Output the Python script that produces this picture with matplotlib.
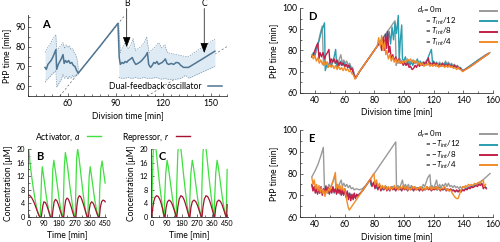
import numpy as np
import matplotlib
matplotlib.use('Agg')
from matplotlib import pyplot as plt
from matplotlib.lines import Line2D
from matplotlib.ticker import MultipleLocator

plt.rcParams['font.family'] = ['Lato', 'DejaVu Sans']
plt.rcParams['mathtext.fontset'] = 'custom'
plt.rcParams['mathtext.rm'] = 'Lato'
plt.rcParams['mathtext.it'] = 'Lato:italic'
plt.rcParams['mathtext.bf'] = 'Lato:bold'
plt.rcParams['font.size'] = 6.2

# 颜色
GRAY, TEAL, CRIMSON, ORANGE = '#9a9a9a', '#2a9db0', '#c41e48', '#f28c28'
GREEN, DARKRED = '#3fe03f', '#a3122f'
STEEL, BAND, BAND_EDGE = '#4f7592', '#deebf5', '#7e97ab'

# ---- A: 平均 PtP 时间及范围
a_mean = [(45.7, 69.5), (46.5, 68.5), (47.5, 71), (48.5, 72), (49.5, 73), (50.5, 74.5),
          (51.5, 76.5), (52.5, 78.5), (53, 68.5), (54, 71), (55, 72.5), (56, 74), (57, 76),
          (57.7, 71.5), (58.5, 73), (59.5, 72), (60.5, 73), (61.5, 71.5), (62.5, 72),
          (63.5, 70.5), (64.5, 70), (65.5, 68), (66.5, 66.5), (80, 80), (91.5, 91.8),
          (92.3, 74.5), (93, 71), (94, 72), (95, 71.5), (96, 72.5), (97, 72), (98, 73),
          (99, 73.5), (100.5, 74.5), (101.5, 72.5), (102.7, 71), (104, 71.5), (105.8, 72.5),
          (107, 73.5), (107.8, 74.3), (109, 75.5), (110, 77), (110.8, 71), (112, 69.5),
          (113, 70.5), (114, 72), (115, 71.5), (116, 72.5), (117, 71), (118, 71.5),
          (119.3, 72), (120.5, 73), (121.3, 73.8), (122.3, 71.5), (123.4, 71), (125, 71.5),
          (126.5, 71), (128, 72), (129.6, 71.8), (131, 70.5), (132.7, 69.5), (134, 69.5),
          (135.8, 69.5), (144, 73.5), (152.4, 77.7)]
band1_x = [45.7, 47, 48.5, 50, 51.5, 52.5, 53, 54.5, 56, 57, 58, 59, 60, 61, 62, 63, 64, 65, 66, 66.8]
band1_hi = [77, 79, 81, 83, 85, 86, 78, 79.5, 81, 82, 79, 81, 79.5, 80.5, 78.5, 79, 77, 76, 73, 67]
band1_lo = [62, 63.5, 64.5, 66, 67, 68, 59.5, 61.5, 63.5, 66, 64, 65, 63.5, 65, 64, 65.5, 64.5, 66, 65.5, 66.5]
band2_x = [92, 93, 94, 96, 98, 99.5, 101, 102.5, 104, 106, 108, 109.5, 111, 113, 115, 117,
           119, 121, 122.5, 125, 128, 131, 134, 136, 144, 152.4]
band2_hi = [92, 77, 79, 82, 79, 80.5, 84, 78, 79, 80, 82, 85, 77, 78.5, 80, 82, 79.5, 81, 77,
            76.5, 76, 75.5, 75, 75, 79.5, 83.8]
band2_lo = [64.5, 64, 64, 64, 64.5, 64, 64, 64.5, 64, 64, 64.5, 64, 64, 64, 64.5, 64, 63.5, 64,
            63.5, 63.5, 63.5, 64, 65.5, 64, 67, 70]
arrow_b, arrow_c = (97, 79.8), (145.7, 76.8)

# ---- B, C: 激活物 a 与抑制物 r
b_act = [(0, 20), (10, 15), (20, 11), (30, 7.5), (40, 4.5), (50, 2), (60, 0.5), (68, 0), (72, 6),
         (76, 12), (80, 14.8), (88, 12), (96, 9), (104, 6), (112, 3.5), (120, 1.5), (128, 0.2),
         (134, 0), (138, 8), (142, 14), (148, 16.7), (156, 14), (164, 11), (172, 8), (180, 5),
         (188, 2.5), (196, 0.5), (202, 0), (206, 8), (210, 15), (216, 19), (224, 16.5),
         (232, 13.5), (240, 10), (248, 7), (256, 4), (264, 1.5), (270, 0.2), (274, 0), (278, 9),
         (282, 17), (288, 20), (296, 17.5), (304, 14), (312, 10.5), (320, 7), (328, 4),
         (336, 1.5), (344, 0.2), (348, 0), (352, 7), (356, 12), (362, 14.8), (370, 12), (378, 9),
         (386, 6), (394, 3.5), (402, 1.5), (410, 0.2), (414, 0), (418, 8), (424, 14),
         (432, 16.5), (440, 13.5), (450, 10)]
b_rep = [(0, 6.5), (10, 6.2), (20, 5.5), (30, 4.5), (40, 3.2), (50, 1.8), (60, 0.5), (66, 0),
         (74, 0), (78, 1.5), (84, 3.5), (90, 4.5), (98, 4.3), (106, 3.5), (114, 2.3), (122, 1),
         (128, 0), (138, 0), (144, 2.5), (150, 4.5), (158, 5.2), (166, 4.8), (174, 3.8),
         (182, 2.5), (190, 1.2), (198, 0), (206, 0), (212, 3), (218, 5), (226, 5.6), (234, 5.2),
         (242, 4.2), (250, 3), (258, 1.6), (266, 0.3), (272, 0), (278, 0), (284, 3.5), (290, 5.5),
         (298, 6.3), (306, 6), (314, 5), (322, 3.8), (330, 2.4), (338, 1), (344, 0), (352, 0),
         (356, 2), (362, 3.8), (370, 4.5), (378, 4.2), (386, 3.3), (394, 2.2), (402, 1),
         (410, 0), (416, 0), (422, 3), (430, 4.6), (438, 5), (446, 4.8), (450, 4.5)]
c_act = [(0, 0), (4, 10), (8, 18), (14, 23), (22, 21.5), (30, 18), (40, 13), (50, 8.5), (60, 4.5),
         (68, 1.5), (74, 0), (78, 6), (84, 13), (92, 16.7), (100, 14.5), (108, 11.5), (116, 8.5),
         (124, 5.5), (132, 3), (140, 1), (146, 0), (150, 10), (156, 19), (164, 23), (172, 21),
         (180, 17.5), (190, 12.5), (200, 8), (210, 4), (218, 1.2), (224, 0), (228, 6), (234, 13),
         (242, 16.7), (250, 14.5), (258, 11.5), (266, 8.5), (274, 5.5), (282, 3), (290, 1),
         (296, 0), (300, 10), (306, 19), (314, 23), (322, 21), (330, 17.5), (340, 12.5),
         (350, 8), (360, 4), (368, 1.2), (372, 0), (376, 6), (382, 13), (390, 16.7),
         (398, 14.5), (406, 11.5), (414, 8.5), (422, 5.5), (430, 3), (438, 1), (444, 0),
         (447, 7), (450, 14)]
c_rep = [(0, 0), (6, 2.5), (12, 4.5), (20, 5.8), (30, 6.3), (40, 6), (50, 5), (58, 3.8), (66, 2.2),
         (72, 0.8), (76, 0), (80, 0), (86, 2.8), (94, 4.5), (104, 5), (114, 4.6), (124, 3.6),
         (132, 2.4), (140, 1.2), (146, 0), (150, 0), (156, 3), (164, 5.3), (174, 6.3), (184, 6),
         (194, 5), (202, 3.8), (210, 2.4), (218, 1), (224, 0), (228, 0), (234, 2.8), (242, 4.5),
         (252, 5), (262, 4.6), (272, 3.6), (280, 2.4), (288, 1.2), (296, 0), (300, 0), (306, 3),
         (314, 5.3), (324, 6.3), (334, 6), (344, 5), (352, 3.8), (360, 2.4), (368, 1), (372, 0),
         (376, 0), (382, 2.8), (390, 4.5), (400, 5), (410, 4.6), (420, 3.6), (428, 2.4),
         (436, 1.2), (444, 0), (447, 0), (450, 3.7)]

# ---- D: d_r = 0, T/12, T/8, T/4
d_gray = [(38, 77), (39, 78.5), (40, 77), (41, 80), (42, 82), (43, 86), (44, 89), (45, 91.5),
          (45.8, 73), (46.5, 75), (47.5, 73), (48.5, 74.5), (49.5, 73), (50.5, 75), (51.5, 73.5),
          (52.5, 76), (53.5, 74), (54.5, 75), (55.5, 73), (56.5, 76), (57.5, 78), (58.5, 74),
          (59.5, 75.5), (60.5, 74), (61.5, 75), (62.5, 73), (63.5, 74), (64.5, 72), (65.5, 72),
          (66.5, 69), (67.5, 67), (70, 70), (75, 75), (80, 80), (85, 85), (90, 90), (94, 94),
          (94.8, 73), (95.5, 75), (96.5, 74), (97.5, 76), (98.5, 74), (100, 75), (101, 73),
          (102, 74.5), (103, 73.5), (104, 75), (105, 74), (106, 75.5), (107, 74), (108, 75),
          (109, 74), (110, 73.5), (111, 74), (112, 73), (113, 74.5), (114, 73), (115, 74),
          (116, 73.5), (117, 75), (118, 74), (119, 73.5), (120, 74.5), (121, 73), (122, 74),
          (123, 73), (124, 74.5), (125, 73.5), (126, 74), (127, 73), (128, 75), (129, 73.5),
          (130, 74.5), (131, 73), (132, 74), (133, 73), (134, 73.5), (135, 72.5), (136, 73),
          (137, 72), (138, 72), (139, 71), (140, 70.5), (145, 73), (150, 75.5), (155, 78),
          (158, 79)]
d_teal = [(38, 77), (39, 79), (40, 78), (41, 81), (42, 83), (43, 85), (44, 88), (45, 90),
          (46.5, 93), (47, 70.5), (48, 73), (49, 72), (50, 74), (51, 72.5), (52, 75), (53, 77),
          (54, 80.5), (54.8, 72), (55.5, 74), (56.5, 73), (57.5, 75), (58.5, 73), (59.5, 74.5),
          (60.5, 72.5), (61.5, 73.5), (62.5, 72), (63.5, 73), (64.5, 71.5), (65.5, 71),
          (66.5, 68.5), (67.5, 67), (70, 70), (75, 75), (80, 80), (85, 85), (88, 88), (89, 84),
          (90, 89), (91, 83), (92, 91), (93, 85), (94, 93), (95, 88), (96.2, 96.5), (96.8, 75),
          (97.5, 84), (98.5, 92), (99, 76), (100, 75), (101, 77), (102, 74), (103, 75.5),
          (104, 73), (105, 74.5), (106, 73), (107, 75), (108, 74), (109, 76), (110, 74),
          (111, 75), (112, 73.5), (113, 74.5), (114, 73), (115, 75), (116, 76), (117, 78),
          (118.5, 80.5), (119.3, 74), (120, 75), (121, 73.5), (122, 74.5), (123, 73), (124, 74),
          (125, 72.5), (126, 74), (127, 73), (128, 74.5), (129, 73), (130, 74), (131, 72.5),
          (132, 73.5), (133, 72), (134, 73), (135, 72), (136, 72.5), (137, 71.5), (138, 72),
          (139, 71), (140, 70.5), (145, 73), (150, 75.5), (155, 77.5), (157, 78.5)]
d_crimson = [(38, 77), (39, 78), (40, 80), (41, 82), (42, 83.5), (42.8, 76), (43.5, 79),
             (44.5, 77), (45.5, 79), (46.5, 76), (47.5, 78), (48.5, 79), (49.5, 80.5), (50.2, 74),
             (51, 76), (52, 74.5), (53, 76), (54, 74), (55, 75.5), (56, 73), (57, 74.5), (58, 73),
             (59, 74), (60, 72.5), (61, 73.5), (62, 72), (63, 73), (64, 71), (65, 71.5), (66, 69),
             (67.5, 67), (70, 70), (75, 75), (80, 80), (84, 84), (85, 80), (86, 86), (86.8, 80),
             (87.5, 87.5), (88.3, 81), (89, 89), (89.8, 79), (90.5, 82), (91.5, 76), (92.5, 78),
             (93.5, 75), (94.5, 77), (95.5, 74.5), (96.5, 76), (97.5, 74), (98.5, 75),
             (99.5, 73), (100.5, 74.5), (101.5, 73), (102.5, 74), (103.5, 72), (104.5, 72.5),
             (105.5, 71), (106.5, 71.5), (107.5, 73), (108.5, 72), (109.5, 74), (110.5, 72.5),
             (111.5, 74), (112.5, 73), (113.5, 74.5), (114.5, 73.5), (115.5, 75), (116.5, 76.5),
             (117.2, 73), (118, 74), (119, 73), (120, 74.5), (121, 73), (122, 74), (123, 72.5),
             (124, 73.5), (125, 72.5), (126, 74), (127, 72.5), (128, 73.5), (129, 72.5),
             (130, 73.5), (131, 72.5), (132, 73), (133, 72), (134, 73), (135, 72), (136, 72.5),
             (137, 71.5), (138, 71.5), (139, 70.5), (140, 70.5), (145, 72.5), (150, 75),
             (155, 77.5), (157, 78.5)]
d_orange = [(38, 78), (39, 76), (40, 77.5), (41, 75), (42, 76.5), (43, 74), (44, 75.5), (45, 73.5),
            (46, 75), (47, 73), (48, 74.5), (49, 72), (50, 73.5), (51, 72), (52, 73), (53, 71.5),
            (54, 73), (55, 71), (56, 72.5), (57, 71), (58, 72), (59, 70.5), (60, 72), (61, 70.5),
            (62, 71.5), (63, 70), (64, 70.5), (65, 69), (66, 68.5), (67, 66.5), (70, 70), (75, 75),
            (80, 80), (82, 82), (83, 86), (84, 82), (85, 87), (86, 80), (87, 84), (87.8, 78),
            (88.5, 80), (89.5, 76), (90.5, 78), (91.5, 75), (92.5, 77), (93.5, 74.5), (94.5, 76),
            (95.5, 74), (96.5, 75.5), (97.5, 74), (98.5, 75), (99.5, 74), (100.5, 75),
            (101.5, 74.5), (102.5, 76), (103.5, 75), (104.5, 76), (105.5, 74.5), (106.5, 75.5),
            (107.5, 74), (108.5, 75), (109.5, 73.5), (110.5, 74.5), (111.5, 73), (112.5, 74),
            (113.5, 72.5), (114.5, 73.5), (115.5, 73), (116.5, 74), (117.5, 72.5), (118.5, 73.5),
            (119.5, 72.5), (120.5, 73.5), (121.5, 72.5), (122.5, 73.5), (123.5, 72), (124.5, 73),
            (125.5, 72.5), (126.5, 73), (127.5, 72), (128.5, 73), (129.5, 72), (130.5, 73),
            (131.5, 72), (132.5, 72.5), (133.5, 71.5), (134.5, 72), (135.5, 71), (136.5, 72),
            (137.5, 71), (138.5, 71), (139.5, 70), (140.5, 70.5), (145, 72.5), (150, 75),
            (155, 77.5), (157, 78.5)]

# ---- E: d_r = 0, -T/12, -T/8, -T/4
e_gray = [(38, 78.5), (40, 81), (42, 84), (44, 88), (45.7, 92), (46.5, 73), (47.5, 74.5),
          (48.5, 73), (49.5, 75), (50.5, 73.5), (51.5, 75), (52.5, 77), (53.5, 79.5), (54.2, 73),
          (55, 75), (56, 74), (57, 76), (57.8, 77), (58.5, 74), (59.5, 75.5), (60.5, 74),
          (61.5, 75), (62.5, 73.5), (63.5, 74.5), (64.5, 73), (65.5, 73.5), (66.5, 72.5),
          (68, 73), (70, 72.5), (72, 73), (75, 75), (80, 80), (85, 85), (90, 90), (94.5, 94.5),
          (95, 73), (96, 74.5), (97, 73), (98, 75), (99, 77), (99.8, 74), (101, 75), (102, 73.5),
          (103, 75), (104, 73), (105, 74.5), (106, 73.5), (107, 74), (108, 72.5), (109, 73.5),
          (110, 73), (111, 74), (112, 73), (113, 75), (114, 74), (115, 76), (116, 78),
          (117.5, 79.5), (118.3, 73), (119, 74.5), (120, 73), (121, 75), (122, 77), (123, 73),
          (124, 75), (125, 73.5), (126, 75), (127, 74), (128, 75.5), (129, 74), (130, 75.5),
          (131, 74), (132, 74.5), (133, 73.5), (134, 74.5), (135, 73.5), (136, 74), (137, 73),
          (138, 74), (139, 73), (140, 74), (141, 73.5), (142, 74), (143, 73.5), (144, 74),
          (145, 74), (148, 75), (151, 76), (154, 77.5), (158, 80)]
e_teal = [(38, 74.5), (39, 72.5), (40, 74), (41, 71.5), (42, 73.5), (43, 71), (44, 73.5),
          (45, 71), (46, 73), (47, 71.5), (48, 73.5), (49, 71), (50, 73), (51, 71.5), (52, 73.5),
          (53, 71), (54, 73), (55, 71), (56, 73), (57, 70.5), (58, 72.5), (59, 70.5), (60, 72.5),
          (61, 69.5), (62, 71.5), (63, 69), (64, 70.5), (65, 68.5), (66, 70.5), (67, 69),
          (68, 70), (70, 70.5), (72, 72), (75, 75), (77, 77), (78, 74.5), (80, 75.5), (82, 73),
          (84, 74.5), (86, 72.5), (88, 74), (90, 72.5), (92, 74), (94, 72.5), (96, 73.5),
          (98, 72.5), (100, 74), (102, 72.5), (104, 73.5), (106, 72.5), (108, 73.5), (110, 72.5),
          (112, 73.5), (114, 72.5), (116, 73.5), (118, 72.5), (120, 73.5), (122, 72.5),
          (124, 73.5), (126, 72.5), (128, 73), (130, 72.5), (132, 72.5), (134, 72), (136, 72),
          (138, 72), (140, 72.5), (142, 73), (144, 73.5), (146, 74), (148, 74.5), (150, 75),
          (152, 75.5), (154, 74), (155.5, 73.5)]
e_crimson = [(38, 75), (38.7, 72), (39.5, 74), (40.3, 71), (41, 73), (41.8, 70.5), (42.6, 73.5),
             (43.4, 71), (44.2, 74), (45, 70), (45.8, 73), (46.6, 71), (47.4, 74), (48.2, 71.5),
             (49, 73.5), (49.8, 70.5), (50.6, 73), (51.4, 71), (52.2, 74), (53, 71.5), (53.8, 73),
             (54.6, 70.5), (55.4, 73.5), (56.2, 71), (57, 73), (57.8, 70), (58.6, 72.5),
             (59.4, 70), (60.2, 73), (61, 69), (61.8, 72), (62.6, 68), (63.4, 71), (64.2, 67.5),
             (65, 70.5), (65.8, 68), (66.6, 71), (67.4, 68.5), (68.2, 70.5), (69, 69.5),
             (70, 70.5), (72, 72), (75, 75), (77.5, 77.5), (78.5, 74), (79.5, 76), (80.5, 73),
             (81.5, 75.5), (82.5, 72.5), (83.5, 74.5), (84.5, 72), (85.5, 74), (86.5, 72.5),
             (87.5, 74), (88.5, 72), (89.5, 73.5), (90.5, 72), (91.5, 74), (92.5, 72.5),
             (93.5, 73.5), (94.5, 72), (95.5, 73.5), (96.5, 72.5), (97.5, 74), (98.5, 72),
             (99.5, 73.5), (100.5, 72.5), (101.5, 74), (102.5, 72), (103.5, 73.5), (104.5, 72.5),
             (105.5, 74), (106.5, 72), (107.5, 73.5), (108.5, 72.5), (109.5, 73.5), (110.5, 72),
             (111.5, 73.5), (112.5, 72), (113.5, 73), (114.5, 72.5), (115.5, 74), (116.5, 72.5),
             (117.5, 73.5), (118.5, 72), (119.5, 73), (120.5, 72.5), (121.5, 74), (122.5, 72.5),
             (123.5, 73.5), (124.5, 72), (125.5, 73), (126.5, 72.5), (127.5, 73.5), (128.5, 72),
             (129.5, 73), (130.5, 72), (131.5, 73), (132.5, 72), (133.5, 72.5), (134.5, 71.5),
             (135.5, 72.5), (136.5, 71.5), (137.5, 72.5), (138.5, 71.5), (139.5, 72.5),
             (140.5, 72), (141.5, 73), (142.5, 72.5), (143.5, 73.5), (144.5, 73), (145.5, 74),
             (146.5, 73.5), (147.5, 74), (148.5, 74.5), (149.5, 74), (150.5, 75), (151.5, 74.5),
             (152.5, 75.5), (153.5, 73), (154.5, 74), (155.5, 73)]
e_orange = [(38, 78), (38.8, 75), (39.6, 77), (40.4, 73), (41.2, 75), (42, 72), (42.8, 74.5),
            (43.6, 71.5), (44.4, 73.5), (45.2, 71), (46, 72.5), (46.8, 69.5), (47.6, 72),
            (48.4, 71), (49.2, 73), (50, 72), (51, 74), (52, 76), (53, 78), (53.8, 80.5),
            (54.5, 73), (55.3, 75), (56.1, 73), (56.9, 74.5), (57.7, 72.5), (58.5, 74), (59.3, 72),
            (60.1, 73), (60.9, 70), (61.7, 67), (62.5, 64.5), (63.2, 63.2), (66, 66), (70, 70),
            (75, 75), (79.8, 80), (80.5, 75), (81.5, 77), (82.5, 74), (83.5, 75.5), (84.5, 73),
            (85.5, 74.5), (86.5, 73), (87.5, 74.5), (88.5, 72.5), (89.5, 74), (90.5, 72.5),
            (91.5, 74), (92.5, 73), (93.5, 74.5), (94.5, 73), (95.5, 74), (96.5, 72.5),
            (97.5, 74), (98.5, 73), (99.5, 74.5), (100.5, 73), (101.5, 74), (102.5, 72.5),
            (103.5, 73.5), (104.5, 72.5), (105.5, 74), (106.5, 73), (107.5, 74), (108.5, 72.5),
            (109.5, 73.5), (110.5, 73), (111.5, 74), (112.5, 72.5), (113.5, 73.5), (114.5, 72.5),
            (115.5, 74), (116.5, 73), (117.5, 74), (118.5, 72.5), (119.5, 73.5), (120.5, 73),
            (121.5, 74), (122.5, 72.5), (123.5, 73.5), (124.5, 72.5), (125.5, 73.5), (126.5, 73),
            (127.5, 74), (128.5, 72.5), (129.5, 73), (130.5, 72), (131.5, 72.5), (132.5, 71),
            (133.5, 70), (134.5, 69), (135.5, 68.5), (136.5, 68.5), (137.5, 70.5), (138.5, 72.5),
            (139.5, 74), (140.5, 73.5), (141.5, 74.5), (142.5, 74), (143.5, 75), (144.5, 74.5),
            (145.5, 75), (146.5, 74.5), (147.5, 75.5), (148.5, 75), (149.5, 75.5), (150.5, 76),
            (151.5, 75.5), (152.5, 76.5), (153.5, 77), (154, 74), (155, 75)]

d_labels = [r'$d_r$= 0m', r'= $T_{int}$/12', r'= $T_{int}$/8', r'= $T_{int}$/4']
e_labels = [r'$d_r$= 0m', r'= $-T_{int}$/12', r'= $-T_{int}$/8', r'= $-T_{int}$/4']
de_colors = [GRAY, TEAL, CRIMSON, ORANGE]


def style(ax, xmaj, xmin, ymaj, ymin, size=6.2):
    for s in ['top', 'right']:
        ax.spines[s].set_visible(False)
    for s in ['left', 'bottom']:
        ax.spines[s].set_linewidth(0.6)
        ax.spines[s].set_color('#333333')
    ax.xaxis.set_major_locator(MultipleLocator(xmaj))
    ax.xaxis.set_minor_locator(MultipleLocator(xmin))
    ax.yaxis.set_major_locator(MultipleLocator(ymaj))
    ax.yaxis.set_minor_locator(MultipleLocator(ymin))
    ax.tick_params(which='both', direction='in', width=0.5, pad=2, colors='#333333',
                   labelcolor='black', labelsize=size)
    ax.tick_params(which='major', length=2.5)
    ax.tick_params(which='minor', length=1.5)


def xy(pts):
    a = np.array(pts, dtype=float)
    return a[:, 0], a[:, 1]


fig = plt.figure(figsize=(5, 2.42), dpi=100)

# ---------------- A
axA = fig.add_axes([0.056, 0.603, 0.398, 0.335])
axA.axline((0, 0), slope=1, color='#666666', lw=0.5, ls=(0, (3, 3)), zorder=0.5)
axA.axline((0, 0), slope=0.5, color='#666666', lw=0.5, ls=(0, (3, 3)), zorder=0.5)
for bx, hi, lo in [(band1_x, band1_hi, band1_lo), (band2_x, band2_hi, band2_lo)]:
    axA.fill_between(bx, lo, hi, color=BAND, lw=0, zorder=1)
    axA.plot(bx, hi, color=BAND_EDGE, lw=0.5, ls=(0, (2, 1.5)), zorder=2)
    axA.plot(bx, lo, color=BAND_EDGE, lw=0.5, ls=(0, (2, 1.5)), zorder=2)
mx, my = xy(a_mean)
lineA, = axA.plot(mx, my, color=STEEL, lw=1.1, zorder=3)
axA.set_xlim(35, 160)
axA.set_ylim(55, 96)
style(axA, 30, 5, 10, 5)
axA.set_xlabel('Division time [min]', labelpad=2)
axA.set_ylabel('PtP time [min]', labelpad=3)
axA.legend([lineA], ['Dual-feedback oscillator'], loc='lower right', markerfirst=False,
           frameon=False, handlelength=1.6, borderaxespad=0.2, fontsize=6.2)
for lab, (ax_, ay_) in [('B', arrow_b), ('C', arrow_c)]:
    axA.annotate('', xy=(ax_, ay_), xytext=(ax_, 99.3), annotation_clip=False,
                 arrowprops=dict(arrowstyle='-|>,head_length=1.0,head_width=0.38',
                                 color='black', lw=0.5, shrinkA=0, shrinkB=0))
    axA.text(ax_, 101.6, lab, ha='center', va='center', fontsize=6.2, clip_on=False)
axA.text(0.07, 0.95, 'A', transform=axA.transAxes, fontsize=8, fontweight='bold', va='top')

# ---------------- B, C
for pos, act, rep, lab in [([0.056, 0.103, 0.156, 0.281], b_act, b_rep, 'B'),
                           ([0.302, 0.103, 0.154, 0.281], c_act, c_rep, 'C')]:
    ax = fig.add_axes(pos)
    t, a = xy(act)
    ax.plot(t, a, color=GREEN, lw=0.9)
    t, r = xy(rep)
    ax.plot(t, r, color=DARKRED, lw=0.9)
    ax.set_xlim(-4, 455)
    ax.set_ylim(0, 20)
    style(ax, 90, 45, 4, 2, size=5.2)
    ax.set_xticks([0, 90, 180, 270, 360, 450])
    ax.set_xlabel('Time [min]', labelpad=2)
    ax.set_ylabel('Concentration [μM]', labelpad=3)
    ax.text(0.1, 0.97, lab, transform=ax.transAxes, fontsize=8, fontweight='bold', va='top')

leg_h = [Line2D([], [], color=GREEN, lw=1.0), Line2D([], [], color=DARKRED, lw=1.0)]
fig.legend(leg_h, ['Activator, $a$', 'Repressor, $r$'], ncol=2, markerfirst=False,
           frameon=False, loc='center', bbox_to_anchor=(0.225, 1 - 137 / 242),
           handlelength=1.6, columnspacing=2.5, fontsize=6.2)

# ---------------- D, E
for pos, series, labels, lab, rows in [
        ([0.6, 0.616, 0.386, 0.351], [d_gray, d_teal, d_crimson, d_orange], d_labels, 'D',
         [0.97, 0.846, 0.722, 0.598]),
        ([0.6, 0.103, 0.386, 0.360], [e_gray, e_teal, e_crimson, e_orange], e_labels, 'E',
         [0.948, 0.830, 0.712, 0.594])]:
    ax = fig.add_axes(pos)
    for pts, col in zip(series, de_colors):
        x, y = xy(pts)
        ax.plot(x, y, color=col, lw=1.0)
    ax.set_xlim(30, 160)
    ax.set_ylim(60, 100)
    style(ax, 20, 10, 10, 5)
    ax.set_xlabel('Division time [min]', labelpad=2)
    ax.set_ylabel('PtP time [min]', labelpad=3)
    # 图例：文字在左，线段在右
    for i, (txt, col, yy) in enumerate(zip(labels, de_colors, rows)):
        ax.text(0.606 if i == 0 else 0.648, yy, txt, transform=ax.transAxes,
                ha='left', va='center', fontsize=5.7)
        ax.add_line(Line2D([0.933, 1.02], [yy, yy], transform=ax.transAxes, color=col,
                           lw=1.4, clip_on=False))
    ax.text(0.04, 0.97, lab, transform=ax.transAxes, fontsize=8, fontweight='bold', va='top')

fig.savefig('out.png', dpi=100)
